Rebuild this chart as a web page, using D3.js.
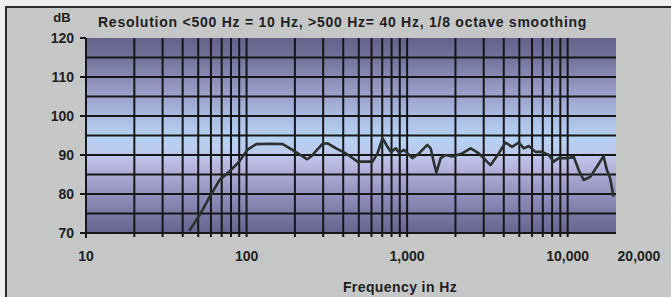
<!DOCTYPE html>
<html>
<head>
<meta charset="utf-8">
<script src="https://cdn.jsdelivr.net/npm/d3@7"></script>
<style>
  html, body { margin: 0; padding: 0; background: #eeeeee; }
  svg { display: block; }
  text { font-family: "Liberation Sans", Arial, sans-serif; font-weight: bold; fill: #1e1e1e; }
</style>
</head>
<body>
<div id="chart"></div>
<script>
// response curve
var freqs = [44, 51, 59, 68, 78, 90, 101, 115, 140, 168, 193, 239, 252, 296, 320, 361, 416, 491, 609, 654,
             703, 755, 792, 851, 892, 957, 1078, 1186, 1336, 1402, 1471, 1521, 1619, 1739, 1914, 2200, 2489, 2800,
             3306, 3721, 4098, 4504, 4962, 5330, 5724, 6300, 6930, 7620, 8190, 8800, 10140, 10890, 11700,
             12570, 13830, 15200, 16730, 17540, 18400, 19300];
var levels = [70.6, 74.6, 79.3, 83.6, 85.7, 88.3, 91.3, 92.8, 92.9, 92.8, 91.3, 88.9, 89.6, 92.8, 93.0, 91.7,
              90.4, 88.3, 88.3, 90.4, 94.3, 92.1, 90.8, 91.7, 90.6, 91.3, 89.2, 90.4, 92.6, 91.7, 87.9, 85.5,
              89.2, 90.0, 89.6, 90.4, 91.7, 90.4, 87.4, 90.4, 93.2, 92.1, 93.2, 91.7, 92.3, 90.8, 90.8, 90.0,
              88.3, 89.2, 89.2, 89.6, 86.2, 83.6, 84.4, 87.0, 89.7, 86.2, 84.0, 79.3];

var yTicks = [70, 80, 90, 100, 110, 120];
var yGrid = [75, 80, 85, 90, 95, 100, 105, 110, 115];
var xTicks = [10, 100, 1000, 10000];
var xTickLabels = ["10", "100", "1,000", "10,000"];
var xEndLabel = "20,000";
var xGrid = [20, 30, 40, 50, 60, 70, 80, 90, 100, 200, 300, 400, 500, 600, 700, 800, 900, 1000,
             2000, 3000, 4000, 5000, 6000, 7000, 8000, 9000, 10000];

var title = "Resolution <500 Hz = 10 Hz, >500 Hz= 40 Hz, 1/8 octave smoothing";

var width = 671, height = 297;
var margin = {top: 38, right: 55, bottom: 64, left: 86};

var x = d3.scaleLog().domain([10, 20000]).range([margin.left, width - margin.right]);
var y = d3.scaleLinear().domain([70, 120]).range([height - margin.bottom, margin.top]);

var svg = d3.select("#chart").append("svg")
    .attr("width", width)
    .attr("height", height);

var defs = svg.append("defs");

var grad = defs.append("linearGradient")
    .attr("id", "plotbg")
    .attr("x1", 0).attr("y1", 0).attr("x2", 0).attr("y2", 1);
[[0, "#63628a"], [0.1, "#72729a"], [0.28, "#9b9ec8"], [0.42, "#acc0e6"], [0.52, "#b6d2f2"],
 [0.6, "#bcc8ec"], [0.66, "#b8b6de"], [0.82, "#8d8bb8"], [1, "#66648e"]].forEach(function(s) {
  grad.append("stop").attr("offset", s[0]).attr("stop-color", s[1]);
});

var noise = defs.append("filter").attr("id", "grain")
    .attr("x", 0).attr("y", 0).attr("width", "100%").attr("height", "100%");
noise.append("feTurbulence").attr("type", "fractalNoise").attr("baseFrequency", 0.9).attr("numOctaves", 2).attr("seed", 3);
noise.append("feColorMatrix").attr("type", "saturate").attr("values", 0);

// panel
svg.append("rect")
    .attr("x", 6).attr("y", 7)
    .attr("width", width - 6).attr("height", height - 7)
    .attr("fill", "#c6c8c7");
svg.append("rect")
    .attr("x", 6).attr("y", 7)
    .attr("width", width - 6).attr("height", height - 7)
    .attr("filter", "url(#grain)")
    .attr("opacity", 0.08);
svg.append("path")
    .attr("d", "M6," + height + "V7H" + width)
    .attr("fill", "none")
    .attr("stroke", "#2b2b2b")
    .attr("stroke-width", 2);

// plot area
svg.append("rect")
    .attr("x", x(10)).attr("y", y(120))
    .attr("width", x(20000) - x(10))
    .attr("height", y(70) - y(120))
    .attr("fill", "url(#plotbg)");

// grid
svg.append("g")
  .selectAll("line")
  .data(yGrid)
  .enter().append("line")
    .attr("x1", x(10)).attr("x2", x(20000))
    .attr("y1", function(d) { return y(d); })
    .attr("y2", function(d) { return y(d); })
    .attr("stroke", "#161616")
    .attr("stroke-width", 2);

svg.append("g")
  .selectAll("line")
  .data(xGrid)
  .enter().append("line")
    .attr("x1", function(d) { return x(d); })
    .attr("x2", function(d) { return x(d); })
    .attr("y1", y(120))
    .attr("y2", y(70) + 4)
    .attr("stroke", "#161616")
    .attr("stroke-width", 2);

// axes lines
svg.append("line")
    .attr("x1", x(10)).attr("x2", x(20000))
    .attr("y1", y(70)).attr("y2", y(70))
    .attr("stroke", "#161616").attr("stroke-width", 2);
svg.append("line")
    .attr("x1", x(10)).attr("x2", x(10))
    .attr("y1", y(120)).attr("y2", y(70) + 5)
    .attr("stroke", "#161616").attr("stroke-width", 2);

// y ticks
var yAxis = svg.append("g");
yAxis.selectAll("line")
    .data(yTicks)
  .enter().append("line")
    .attr("x1", x(10) - 6).attr("x2", x(10))
    .attr("y1", function(d) { return y(d); })
    .attr("y2", function(d) { return y(d); })
    .attr("stroke", "#161616").attr("stroke-width", 2);
yAxis.selectAll("text")
    .data(yTicks)
  .enter().append("text")
    .attr("x", x(10) - 12)
    .attr("y", function(d) { return y(d) + 5; })
    .attr("text-anchor", "end")
    .style("font-size", "14px")
    .text(function(d) { return d; });

svg.append("text")
    .attr("x", 62).attr("y", 22)
    .attr("text-anchor", "middle")
    .style("font-size", "13px")
    .text("dB");

// x tick labels
svg.append("g")
  .selectAll("text")
  .data(xTicks)
  .enter().append("text")
    .attr("x", function(d) { return x(d); })
    .attr("y", 261)
    .attr("text-anchor", "middle")
    .style("font-size", "14px")
    .text(function(d, i) { return xTickLabels[i]; });

svg.append("text")
    .attr("x", x(20000) + 23)
    .attr("y", 261)
    .attr("text-anchor", "middle")
    .style("font-size", "14px")
    .text(xEndLabel);

svg.append("text")
    .attr("x", 400).attr("y", 292)
    .attr("text-anchor", "middle")
    .style("font-size", "14px")
    .style("letter-spacing", "0.4px")
    .text("Frequency in Hz");

svg.append("text")
    .attr("x", 98).attr("y", 27)
    .style("font-size", "14px")
    .style("letter-spacing", "0.75px")
    .text(title);

// response curve
var line = d3.line()
    .x(function(d) { return x(d[0]); })
    .y(function(d) { return y(d[1]); });

svg.append("path")
    .datum(d3.zip(freqs, levels))
    .attr("d", line)
    .attr("fill", "none")
    .attr("stroke", "#2c302f")
    .attr("stroke-width", 2.6)
    .attr("stroke-linejoin", "round");
</script>
</body>
</html>
